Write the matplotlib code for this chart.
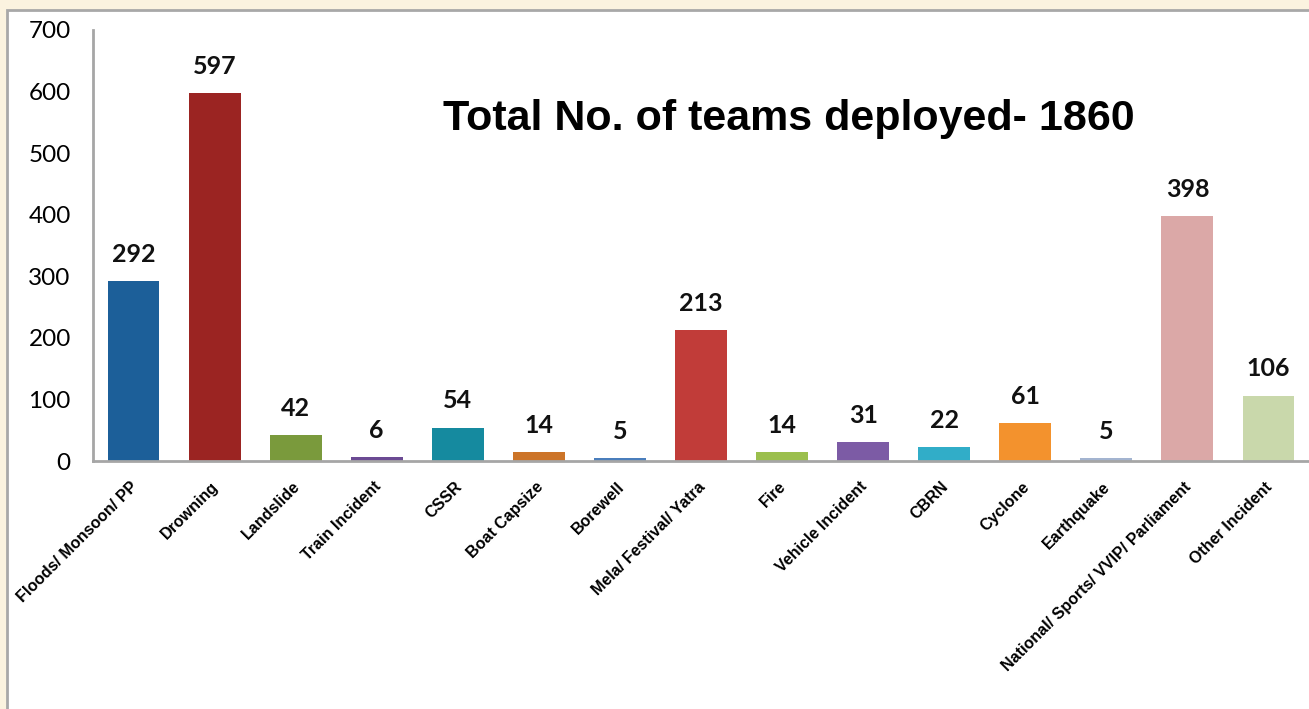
import matplotlib
matplotlib.use("Agg")
import matplotlib.pyplot as plt
from matplotlib.patches import Rectangle
from matplotlib.transforms import ScaledTranslation

categories = ["Floods/ Monsoon/ PP", "Drowning", "Landslide", "Train Incident", "CSSR",
              "Boat Capsize", "Borewell", "Mela/ Festival/ Yatra", "Fire", "Vehicle Incident",
              "CBRN", "Cyclone", "Earthquake", "National/ Sports/ VVIP/ Parliament", "Other Incident"]
values = [292, 597, 42, 6, 54, 14, 5, 213, 14, 31, 22, 61, 5, 398, 106]
colors = ["#1C5F99", "#9B2422", "#7A9A3C", "#6B4A93", "#158A9F", "#CC7428", "#4A7EBC",
          "#C13C39", "#9BBF4D", "#7C5BA5", "#31ADC8", "#F3922D", "#A3B4D0", "#DBA8A7", "#C9D8AB"]
yticks = [0, 100, 200, 300, 400, 500, 600, 700]
title = "Total No. of teams deployed- 1860"

W, H = 1309, 709
fig = plt.figure(figsize=(W / 100, H / 100), dpi=100)
fig.patch.set_facecolor("#FBF3DF")
fig.patches.append(Rectangle((7 / W, -0.01), 1.02, 1 - 10 / H + 0.01, transform=fig.transFigure,
                             facecolor="white", edgecolor="#A8A8A8", linewidth=2, zorder=-10))

ax = fig.add_axes([93 / W, 1 - 461 / H, (W - 93) / W, (461 - 30) / H])
ax.set_facecolor("none")
ax.set_zorder(1)
x = list(range(len(categories)))
bars = ax.bar(x, values, width=0.64, color=colors, zorder=2)
ax.set_xlim(-0.5, len(categories) - 0.5)
ax.set_ylim(0, 700)
ax.set_yticks(yticks)
ax.set_yticklabels([str(v) for v in yticks], family="Lato", fontsize=17.5)
ax.tick_params(axis="y", length=0, pad=16)
ax.set_xticks(x)
ax.set_xticklabels(categories, rotation=45, ha="right", va="top", family="Liberation Sans",
                   fontweight="bold", fontsize=11.5)
ax.tick_params(axis="x", length=0, pad=13)
shift = ScaledTranslation(7 / 100, 0, fig.dpi_scale_trans)
for lbl in ax.get_xticklabels():
    lbl.set_transform(lbl.get_transform() + shift)
for s in ["top", "right"]:
    ax.spines[s].set_visible(False)
for s in ["left", "bottom"]:
    ax.spines[s].set_color("#A6A6A6")
    ax.spines[s].set_linewidth(2)

for xi, v in zip(x, values):
    ax.annotate(str(v), (xi, v), xytext=(0, 11), textcoords="offset points", ha="center",
                va="bottom", family="Lato", fontweight="bold", fontsize=18, color="#111111")

fig.text(443 / W, 1 - 130 / H, title, ha="left", va="baseline", family="Liberation Sans",
         fontweight="bold", fontsize=31, color="black", zorder=3)

fig.savefig("out.png", dpi=100, facecolor=fig.get_facecolor())
